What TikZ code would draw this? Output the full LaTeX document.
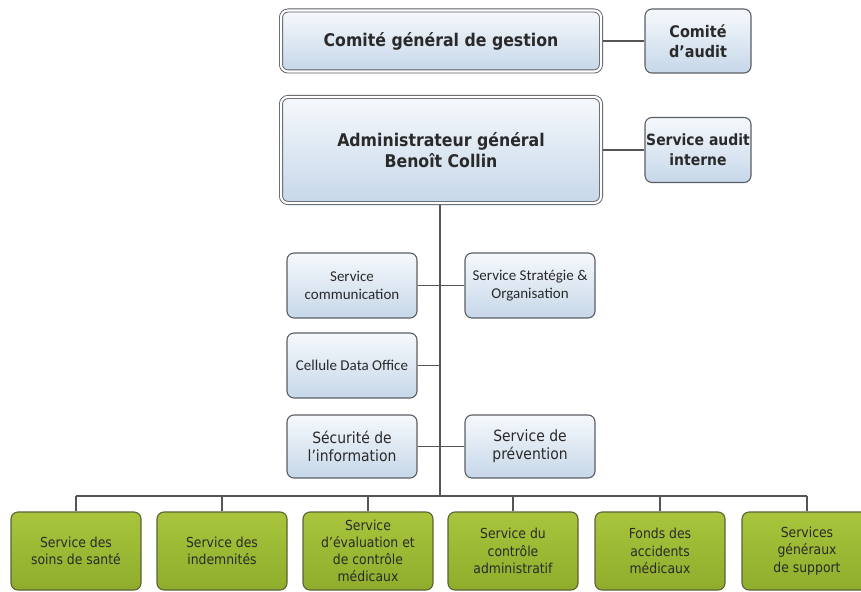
\documentclass[tikz,border=0pt]{standalone}
\usepackage{fontspec}
\setmainfont{DejaVu Sans Condensed}
\newfontfamily\calfont{Carlito}
\definecolor{edge}{HTML}{5A5E63}
\definecolor{wire}{HTML}{555555}
\definecolor{bluetop}{HTML}{F6F9FC}
\definecolor{bluebot}{HTML}{C6D7E9}
\definecolor{greentop}{HTML}{A8C53C}
\definecolor{greenbot}{HTML}{8FAD2C}
\definecolor{greenedge}{HTML}{5C6235}
\definecolor{ink}{HTML}{2A2A2A}
\tikzset{
  orgbox/.style={rectangle, rounded corners=7pt, draw=edge, line width=1.1pt,
    top color=bluetop, bottom color=bluebot, align=center, inner sep=0pt,
    text=ink},
  bigbox/.style={orgbox, double=white, double distance=2.2pt, line width=0.9pt,
    font=\fontsize{17.5}{21}\selectfont\bfseries},
  sidebox/.style={orgbox, font=\fontsize{16}{20}\selectfont\bfseries,
    minimum width=106pt, minimum height=64pt},
  midbox/.style={orgbox, minimum width=130pt, minimum height=65pt,
    font=\fontsize{15.5}{18}\selectfont},
  calbox/.style={midbox, font=\calfont\fontsize{15}{18}\selectfont},
  unitbox/.style={rectangle, rounded corners=7pt, draw=greenedge, line width=1.1pt,
    top color=greentop, bottom color=greenbot, align=center, inner sep=0pt,
    minimum width=130pt, minimum height=78pt, text=ink,
    font=\fontsize{13.8}{17.2}\selectfont},
  link/.style={draw=wire, line width=1.4pt}
}
\begin{document}
\begin{tikzpicture}[x=1pt, y=-1pt]
  \useasboundingbox (0,0) rectangle (861,591);
  \clip (0,0) rectangle (861,591);

  % point where the trunk meets the horizontal bus
  \coordinate (bus) at (440,496);

  % governance
  \node[bigbox, minimum width=320pt, minimum height=61pt] (cgg) at (441,41) {Comité général de gestion};
  \node[sidebox] (audit) at (698,41) {Comité\\d’audit};
  \node[bigbox, minimum width=320pt, minimum height=106pt] (adm) at (441,150) {Administrateur général\\Benoît Collin};
  \node[sidebox, minimum height=65pt, font=\fontsize{15.5}{20}\selectfont\bfseries] (sai) at (698,150) {Service audit\\interne};

  % staff services
  \node[calbox] (com) at (352,285.5) {Service\\communication};
  \node[calbox] (strat) at (530,285.5) {Service Stratégie \&\\Organisation};
  \node[calbox] (cdo) at (352,365.5) {Cellule Data Office};
  \node[midbox, minimum height=63pt] (secu) at (352,446.5) {Sécurité de\\l’information};
  \node[midbox, minimum height=63pt] (prev) at (530,446.5) {Service de\\prévention};

  % operational services
  \node[unitbox] (u1) at (76,551) {Service des\\soins de santé};
  \node[unitbox] (u2) at (222,551) {Service des\\indemnités};
  \node[unitbox] (u3) at (368,551) {Service\\d’évaluation et\\de contrôle\\médicaux};
  \node[unitbox] (u4) at (513,551) {Service du\\contrôle\\administratif};
  \node[unitbox] (u5) at (660,551) {Fonds des\\accidents\\médicaux};
  \node[unitbox] (u6) at (807,551) {Services\\généraux\\de support};

  % connectors
  \path[link] ([xshift=1.5pt]cgg.east) -- (audit.west);
  \path[link] ([xshift=1.5pt]adm.east) -- (sai.west);
  \path[link] ([yshift=-1.5pt]adm.south -| bus) -- (bus);
  \path[link] (com.east) -- (strat.west);
  \path[link] (cdo.east) -- (cdo.east -| bus);
  \path[link] (secu.east) -- (prev.west);
  \path[link] (u1.north |- bus) -- (u6.north |- bus);
  \foreach \u in {u1,u2,u3,u4,u5,u6}
    \path[link] (\u.north |- bus) -- (\u.north);
\end{tikzpicture}
\end{document}
